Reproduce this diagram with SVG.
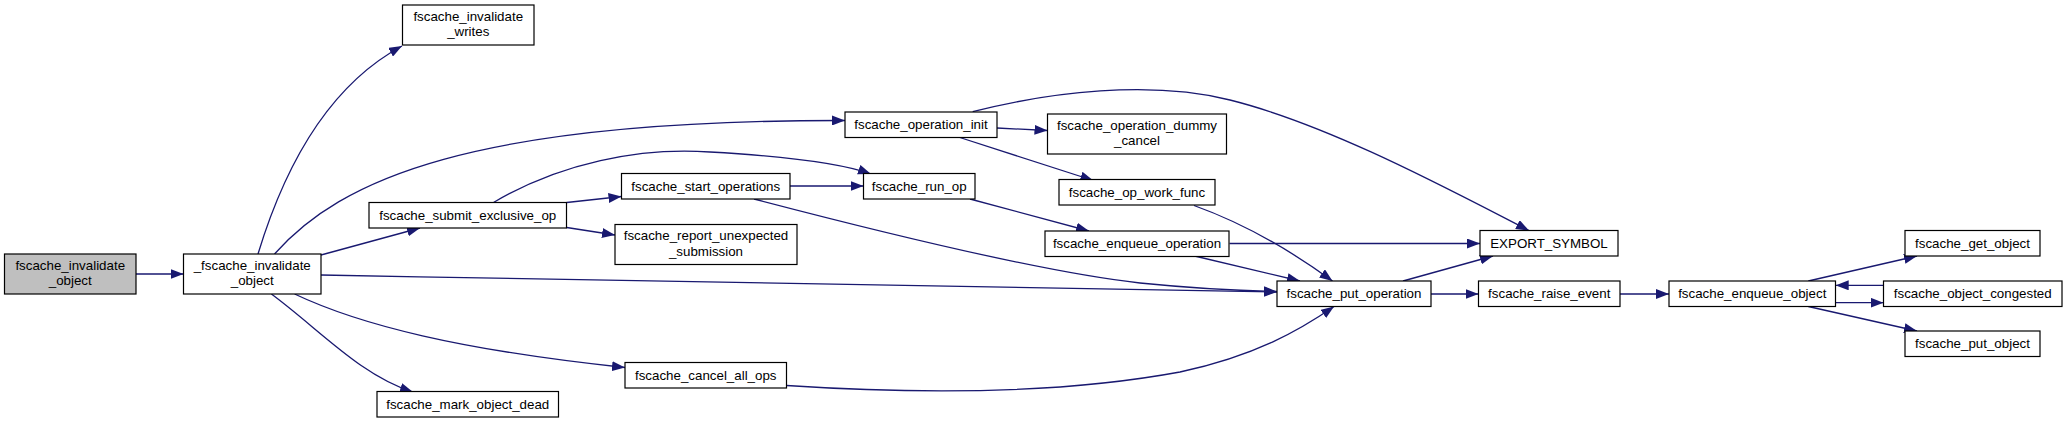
<svg xmlns="http://www.w3.org/2000/svg" width="2067" height="423" viewBox="0 0 2067 423">
<style>
.node rect{fill:#ffffff;stroke:#000000;stroke-width:1.2}
.node.root rect{fill:#bfbfbf}
.node text{font-family:"Liberation Sans",Arial,sans-serif;font-size:13.33px;fill:#000000;text-anchor:middle}
.edges path{fill:none;stroke:#191970;stroke-width:1.3;marker-end:url(#arr)}
</style>
<defs>
<marker id="arr" viewBox="0 0 13 10" refX="13" refY="5" markerWidth="13" markerHeight="10" markerUnits="userSpaceOnUse" orient="auto">
<path d="M0,0 L13,5 L0,10 z" fill="#191970"/>
</marker>
</defs>
<rect width="2067" height="423" fill="#ffffff"/>
<g class="edges">
<path d="M136,274 L183.5,274"/>
<path d="M258,254 C285,165 330,85 402,46"/>
<path d="M274.5,254 C340,180 470,120 845,120.5"/>
<path d="M321,255 L420,228"/>
<path d="M321,275 C700,282 1100,289 1277,292"/>
<path d="M294.6,294 C360,325 460,350 625,367.5"/>
<path d="M271.4,294 C320,330 360,375 413,392"/>
<path d="M566.7,202.5 L621.5,196.5"/>
<path d="M566.7,227.5 L615,235"/>
<path d="M493.5,202.5 C560,163 640,147 710,152 C780,156 840,163 871,174"/>
<path d="M790,186 L863.5,186"/>
<path d="M754,199 C880,232 1040,272 1140,283 C1200,289 1250,291 1277,291.5"/>
<path d="M786.6,385.5 C900,393 1050,396 1180,372 C1255,356 1300,330 1334,306.5"/>
<path d="M970,199 L1089,231"/>
<path d="M997,128 L1047.5,130.5"/>
<path d="M958.3,137 L1093.3,180.5"/>
<path d="M972.7,111.7 C1050,92 1150,80 1230,100 C1330,125 1450,190 1529,230.5"/>
<path d="M1194,205.5 C1240,222 1290,250 1332.5,281"/>
<path d="M1229.5,243.5 L1480,243.5"/>
<path d="M1194.6,256 L1300,281"/>
<path d="M1403,281 L1493,256"/>
<path d="M1431,294 L1478.5,294"/>
<path d="M1620,294 L1669,294"/>
<path d="M1808.3,281 L1917,256"/>
<path d="M1835.7,302.7 L1883.5,302.7"/>
<path d="M1883.5,285.3 L1835.7,285.3"/>
<path d="M1808.3,306.5 L1917,331"/>
</g>
<g id="node1" class="node root"><rect x="4.5" y="254" width="131.5" height="40"/><text x="70.25" y="269.5">fscache_invalidate</text><text x="70.25" y="285">_object</text></g>
<g id="node2" class="node"><rect x="183.5" y="254" width="137.5" height="40"/><text x="252.25" y="269.5">_fscache_invalidate</text><text x="252.25" y="285">_object</text></g>
<g id="node3" class="node"><rect x="402.5" y="5" width="131.5" height="40"/><text x="468.25" y="20.5">fscache_invalidate</text><text x="468.25" y="36">_writes</text></g>
<g id="node4" class="node"><rect x="369" y="202.5" width="197.5" height="25.5"/><text x="467.75" y="219.7">fscache_submit_exclusive_op</text></g>
<g id="node5" class="node"><rect x="377" y="391.5" width="181.5" height="25.5"/><text x="467.75" y="408.7">fscache_mark_object_dead</text></g>
<g id="node6" class="node"><rect x="621.5" y="173.5" width="168.5" height="25.5"/><text x="705.75" y="190.7">fscache_start_operations</text></g>
<g id="node7" class="node"><rect x="615" y="224.5" width="182" height="40"/><text x="706" y="240">fscache_report_unexpected</text><text x="706" y="255.5">_submission</text></g>
<g id="node8" class="node"><rect x="625" y="362.5" width="161.5" height="25.5"/><text x="705.75" y="379.7">fscache_cancel_all_ops</text></g>
<g id="node9" class="node"><rect x="845" y="112" width="152" height="25.5"/><text x="921" y="129.2">fscache_operation_init</text></g>
<g id="node10" class="node"><rect x="863.5" y="173.5" width="111.5" height="25.5"/><text x="919.25" y="190.7">fscache_run_op</text></g>
<g id="node11" class="node"><rect x="1047.5" y="114" width="179" height="40"/><text x="1137" y="129.5">fscache_operation_dummy</text><text x="1137" y="145">_cancel</text></g>
<g id="node12" class="node"><rect x="1059" y="179.5" width="156" height="25.5"/><text x="1137" y="196.7">fscache_op_work_func</text></g>
<g id="node13" class="node"><rect x="1045" y="231" width="184" height="25.5"/><text x="1137" y="248.2">fscache_enqueue_operation</text></g>
<g id="node14" class="node"><rect x="1277" y="281" width="154" height="25.5"/><text x="1354" y="298.2">fscache_put_operation</text></g>
<g id="node15" class="node"><rect x="1480" y="230.5" width="138" height="25.5"/><text x="1549" y="247.7">EXPORT_SYMBOL</text></g>
<g id="node16" class="node"><rect x="1478.5" y="281" width="141.5" height="25.5"/><text x="1549.25" y="298.2">fscache_raise_event</text></g>
<g id="node17" class="node"><rect x="1669" y="281" width="166.5" height="25.5"/><text x="1752.25" y="298.2">fscache_enqueue_object</text></g>
<g id="node18" class="node"><rect x="1905" y="230.5" width="135" height="25.5"/><text x="1972.5" y="247.7">fscache_get_object</text></g>
<g id="node19" class="node"><rect x="1883.5" y="281" width="178.5" height="25.5"/><text x="1972.75" y="298.2">fscache_object_congested</text></g>
<g id="node20" class="node"><rect x="1905" y="331" width="135" height="25.5"/><text x="1972.5" y="348.2">fscache_put_object</text></g>
</svg>
